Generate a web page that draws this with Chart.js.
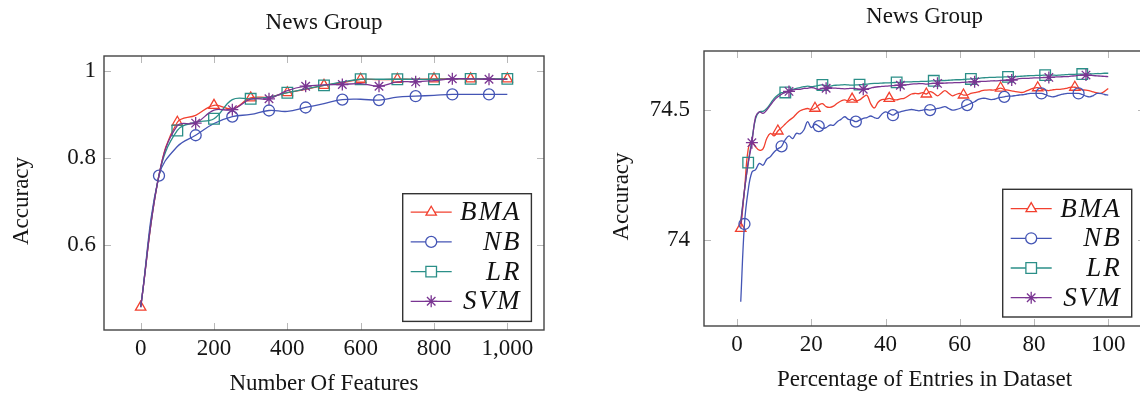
<!DOCTYPE html>
<html><head><meta charset="utf-8">
<script src="https://cdn.jsdelivr.net/npm/chart.js@4.4.1/dist/chart.umd.min.js"></script>
<style>
html,body{margin:0;padding:0;background:#fff;overflow:hidden;width:1140px;height:396px;position:relative;}
#c1{position:absolute;left:0;top:0;}
#c2{position:absolute;left:600px;top:0;}
</style></head><body>
<canvas id="c1" width="570" height="396"></canvas>
<canvas id="c2" width="560" height="396"></canvas>
<script>
// ---------- data ----------
const seriesNames = ['BMA', 'NB', 'LR', 'SVM'];

// Left chart: accuracy vs number of features
const featureCounts = [0,50,100,150,200,250,300,350,400,450,500,550,600,650,700,750,800,850,900,950,1000];
const featBMA = [0.456,0.760,0.882,0.898,0.921,0.913,0.938,0.940,0.950,0.958,0.967,0.973,0.981,0.980,0.981,0.981,0.982,0.982,0.982,0.982,0.982];
const featNB  = [0.456,0.759,0.826,0.852,0.879,0.895,0.900,0.909,0.907,0.916,0.925,0.934,0.935,0.933,0.940,0.942,0.944,0.946,0.946,0.946,0.946];
const featLR  = [0.456,0.760,0.863,0.882,0.890,0.934,0.936,0.940,0.950,0.959,0.967,0.975,0.981,0.981,0.981,0.981,0.981,0.982,0.982,0.982,0.982];
const featSVM = [0.456,0.760,0.874,0.880,0.910,0.911,0.935,0.936,0.955,0.965,0.968,0.969,0.971,0.965,0.975,0.975,0.978,0.982,0.982,0.981,0.981];
const featTicks = [0,200,400,600,800,1000];
const featTickLabels = ['0','200','400','600','800','1,000'];
const accTicksLeft = [0.6,0.8,1];
const accTickLabelsLeft = ['0.6','0.8','1'];

// Right chart: accuracy vs percentage of entries
const entryPercent = [1,2,3,4,5,6,7,8,9,10,11,12,13,14,15,16,17,18,19,20,
  21,22,23,24,25,26,27,28,29,30,31,32,33,34,35,36,37,38,39,40,
  41,42,43,44,45,46,47,48,49,50,51,52,53,54,55,56,57,58,59,60,
  61,62,63,64,65,66,67,68,69,70,71,72,73,74,75,76,77,78,79,80,
  81,82,83,84,85,86,87,88,89,90,91,92,93,94,95,96,97,98,99,100];
const pctBMA = [74.043,74.190,74.348,74.377,74.358,74.345,74.350,74.390,74.410,74.400,
  74.419,74.432,74.446,74.460,74.470,74.485,74.497,74.503,74.506,74.502,
  74.507,74.519,74.525,74.513,74.510,74.515,74.526,74.535,74.539,74.535,
  74.542,74.535,74.539,74.550,74.557,74.525,74.508,74.530,74.540,74.541,
  74.545,74.541,74.539,74.543,74.545,74.553,74.562,74.564,74.563,74.567,
  74.562,74.571,74.565,74.555,74.565,74.575,74.565,74.555,74.560,74.564,
  74.558,74.558,74.564,74.567,74.570,74.575,74.577,74.578,74.577,74.580,
  74.585,74.579,74.577,74.574,74.571,74.569,74.568,74.574,74.580,74.585,
  74.586,74.582,74.577,74.575,74.578,74.580,74.580,74.582,74.585,74.588,
  74.588,74.583,74.578,74.577,74.574,74.570,74.566,74.564,74.572,74.583];
const pctNB = [73.760,74.060,74.190,74.260,74.270,74.294,74.287,74.310,74.320,74.338,
  74.350,74.360,74.386,74.400,74.390,74.410,74.408,74.423,74.455,74.432,
  74.445,74.438,74.429,74.432,74.442,74.441,74.455,74.464,74.474,74.464,
  74.461,74.455,74.461,74.468,74.471,74.477,74.471,74.468,74.484,74.493,
  74.487,74.480,74.489,74.493,74.497,74.500,74.502,74.500,74.497,74.500,
  74.502,74.500,74.502,74.506,74.509,74.513,74.506,74.500,74.502,74.506,
  74.513,74.519,74.526,74.532,74.541,74.545,74.545,74.541,74.541,74.545,
  74.549,74.551,74.554,74.554,74.556,74.558,74.559,74.562,74.564,74.564,
  74.564,74.564,74.560,74.554,74.551,74.554,74.559,74.562,74.564,74.564,
  74.564,74.564,74.560,74.554,74.551,74.556,74.564,74.564,74.560,74.558];
const pctLR = [74.070,74.190,74.297,74.384,74.467,74.493,74.495,74.506,74.525,74.545,
  74.558,74.567,74.568,74.577,74.580,74.584,74.587,74.590,74.592,74.590,
  74.592,74.595,74.597,74.594,74.592,74.595,74.596,74.597,74.598,74.597,
  74.596,74.597,74.598,74.599,74.600,74.602,74.603,74.603,74.604,74.605,
  74.605,74.606,74.607,74.607,74.608,74.609,74.609,74.610,74.610,74.611,
  74.611,74.612,74.613,74.613,74.614,74.614,74.615,74.616,74.617,74.617,
  74.618,74.619,74.620,74.621,74.622,74.624,74.625,74.626,74.626,74.627,
  74.627,74.628,74.628,74.629,74.629,74.630,74.631,74.632,74.633,74.633,
  74.634,74.634,74.635,74.635,74.635,74.634,74.635,74.636,74.637,74.638,
  74.638,74.639,74.639,74.639,74.640,74.640,74.641,74.641,74.642,74.642];
const pctSVM = [74.060,74.190,74.294,74.374,74.474,74.493,74.487,74.500,74.519,74.538,
  74.551,74.561,74.568,74.572,74.577,74.580,74.580,74.584,74.584,74.587,
  74.584,74.580,74.584,74.584,74.587,74.585,74.584,74.583,74.582,74.583,
  74.584,74.583,74.581,74.580,74.582,74.585,74.588,74.590,74.591,74.592,
  74.593,74.594,74.595,74.596,74.597,74.598,74.600,74.601,74.602,74.602,
  74.600,74.602,74.603,74.603,74.604,74.604,74.605,74.605,74.606,74.606,
  74.607,74.608,74.609,74.609,74.610,74.611,74.611,74.612,74.613,74.613,
  74.614,74.615,74.615,74.616,74.618,74.621,74.622,74.622,74.623,74.624,
  74.624,74.625,74.625,74.626,74.627,74.628,74.628,74.629,74.629,74.631,
  74.632,74.634,74.635,74.635,74.634,74.633,74.632,74.631,74.630,74.629];
const pctTicks = [0,20,40,60,80,100];
const pctTickLabels = ['0','20','40','60','80','100'];
const accTicksRight = [74, 74.5];
const accTickLabelsRight = ['74','74.5'];

// ---------- style ----------
const COLORS = ['#f2402f', '#4455b5', '#2b8f88', '#7a3592'];
const STYLES = ['triangle', 'circle', 'rect', 'star'];
const RADII = [6, 5.5, 7.5, 6];
const FONT = '"Liberation Serif", "Times New Roman", serif';

Chart.defaults.font.family = FONT;
Chart.defaults.font.size = 23;
Chart.defaults.color = '#151515';

const frame = {
  id: 'frame',
  beforeDatasetsDraw(chart) {
    const {ctx, chartArea: a, scales: {x, y}} = chart;
    const L = 7;
    ctx.save();
    ctx.strokeStyle = '#b8b8b8';
    ctx.lineWidth = 1;
    ctx.beginPath();
    x.ticks.forEach(t => {
      const px = Math.round(x.getPixelForValue(t.value)) + 0.5;
      ctx.moveTo(px, a.bottom); ctx.lineTo(px, a.bottom - L);
      ctx.moveTo(px, a.top); ctx.lineTo(px, a.top + L);
    });
    y.ticks.forEach(t => {
      const py = Math.round(y.getPixelForValue(t.value)) + 0.5;
      ctx.moveTo(a.left, py); ctx.lineTo(a.left + L, py);
      ctx.moveTo(a.right, py); ctx.lineTo(a.right - L, py);
    });
    ctx.stroke();
    ctx.restore();
  },
  afterDatasetsDraw(chart) {
    const {ctx, chartArea: a} = chart;
    ctx.save();
    ctx.strokeStyle = '#444';
    ctx.lineWidth = 1.4;
    ctx.strokeRect(a.left, a.top, a.right - a.left, a.bottom - a.top);
    ctx.restore();
  },
  afterDraw(chart, args, o) {
    // y-axis title, placed as in the reference (slightly below the axis centre)
    const {ctx, chartArea: a} = chart;
    ctx.save();
    ctx.translate(o.yTitleX, (a.top + a.bottom) / 2 + o.yTitleShift);
    ctx.rotate(-Math.PI / 2);
    ctx.font = '23px ' + FONT;
    ctx.fillStyle = '#151515';
    ctx.textAlign = 'center';
    ctx.textBaseline = 'middle';
    ctx.fillText(o.yTitle, 0, 0);
    ctx.restore();
  }
};

const innerLegend = {
  id: 'innerLegend',
  afterDraw(chart, args, o) {
    const {ctx, chartArea: a} = chart;
    const right = a.right - o.rightInset, bottom = a.bottom - o.bottomInset;
    const left = right - o.w, top = bottom - o.h;
    ctx.save();
    ctx.fillStyle = '#fff';
    ctx.fillRect(left, top, o.w, o.h);
    ctx.strokeStyle = '#333';
    ctx.lineWidth = 1.4;
    ctx.strokeRect(left, top, o.w, o.h);
    chart.data.datasets.forEach((ds, i) => {
      const yy = top + o.first + i * o.step;
      ctx.strokeStyle = ds.borderColor;
      ctx.lineWidth = 1.3;
      ctx.beginPath(); ctx.moveTo(left + 8, yy); ctx.lineTo(left + 49, yy); ctx.stroke();
      ctx.fillStyle = '#fff';
      Chart.helpers.drawPoint(ctx, {pointStyle: STYLES[i], radius: RADII[i], rotation: 0, borderWidth: 1.3}, left + 28.5, yy);
      ctx.fillStyle = '#111';
      ctx.font = 'italic 27px ' + FONT;
      ctx.textAlign = 'right';
      ctx.textBaseline = 'middle';
      ctx.letterSpacing = '2px';
      ctx.fillText(ds.label, right - 10, yy + 1);
      ctx.letterSpacing = '0px';
    });
    ctx.restore();
  }
};

function build(id, cfg) {
  const datasets = cfg.series.map((s, i) => ({
    label: seriesNames[i],
    data: cfg.x.map((xv, j) => ({x: xv, y: s[j]})),
    borderColor: COLORS[i],
    borderWidth: 1.3,
    pointStyle: STYLES[i],
    pointRadius: c => (c.dataIndex >= i && (c.dataIndex - i) % cfg.repeat === 0) ? RADII[i] : 0,
    pointHoverRadius: 0,
    pointBorderColor: COLORS[i],
    pointBackgroundColor: 'rgba(0,0,0,0)',
    pointBorderWidth: 1.3,
    tension: 0.4,
    fill: false,
    order: 3 - i
  }));
  return new Chart(document.getElementById(id), {
    type: 'line',
    data: {datasets},
    plugins: [frame, innerLegend],
    options: {
      responsive: false,
      animation: false,
      events: [],
      layout: {padding: {left: 0, right: cfg.padR, top: 0, bottom: 0}},
      plugins: {
        legend: {display: false},
        tooltip: {enabled: false},
        title: {display: true, text: 'News Group', fullSize: false, color: '#151515',
                font: {size: 23, weight: 'normal'}, padding: {top: cfg.titleTop, bottom: cfg.titleBottom}},
        innerLegend: cfg.legend,
        frame: {yTitle: 'Accuracy', yTitleX: 22, yTitleShift: 8}
      },
      scales: {
        x: {
          type: 'linear', min: cfg.xMin, max: cfg.xMax,
          afterBuildTicks: s => { s.ticks = cfg.xTicks.map(v => ({value: v})); },
          afterFit: s => { s.height = cfg.xAxisH; },
          ticks: {callback: v => cfg.xTickLabels[cfg.xTicks.indexOf(v)], padding: 5, maxRotation: 0, autoSkip: false},
          grid: {display: false, drawTicks: false},
          border: {display: false},
          title: {display: true, text: cfg.xTitle, padding: {top: 0, bottom: cfg.xTitlePadB}}
        },
        y: {
          type: 'linear', min: cfg.yMin, max: cfg.yMax,
          afterBuildTicks: s => { s.ticks = cfg.yTicks.map(v => ({value: v})); },
          afterFit: s => { s.width = 104; },
          ticks: {callback: v => cfg.yTickLabels[cfg.yTicks.indexOf(v)], padding: cfg.yTickPad},
          grid: {display: false, drawTicks: false},
          border: {display: false},
          title: {display: false}
        }
      }
    }
  });
}

build('c1', {
  x: featureCounts, series: [featBMA, featNB, featLR, featSVM], repeat: 2,
  xMin: -100, xMax: 1100, yMin: 0.4034, yMax: 1.0346,
  xTicks: featTicks, xTickLabels: featTickLabels, yTicks: accTicksLeft, yTickLabels: accTickLabelsLeft,
  xTitle: 'Number Of Features', padR: 26, titleTop: 9, titleBottom: 19.4, xAxisH: 66, xTitlePadB: -2, yTickPad: 8,
  legend: {rightInset: 12.6, bottomInset: 8.6, w: 128.7, h: 127.7, first: 18.5, step: 29.7}
});
build('c2', {
  x: entryPercent, series: [pctBMA, pctNB, pctLR, pctSVM], repeat: 10,
  xMin: -8.9, xMax: 109.9, yMin: 73.666, yMax: 74.728,
  xTicks: pctTicks, xTickLabels: pctTickLabels, yTicks: accTicksRight, yTickLabels: accTickLabelsRight,
  xTitle: 'Percentage of Entries in Dataset', padR: 15, titleTop: 3, titleBottom: 20.4, xAxisH: 70, xTitlePadB: 2, yTickPad: 14,
  legend: {rightInset: 13.3, bottomInset: 9, w: 129, h: 127.7, first: 19.3, step: 29.7}
});
</script>
</body></html>
